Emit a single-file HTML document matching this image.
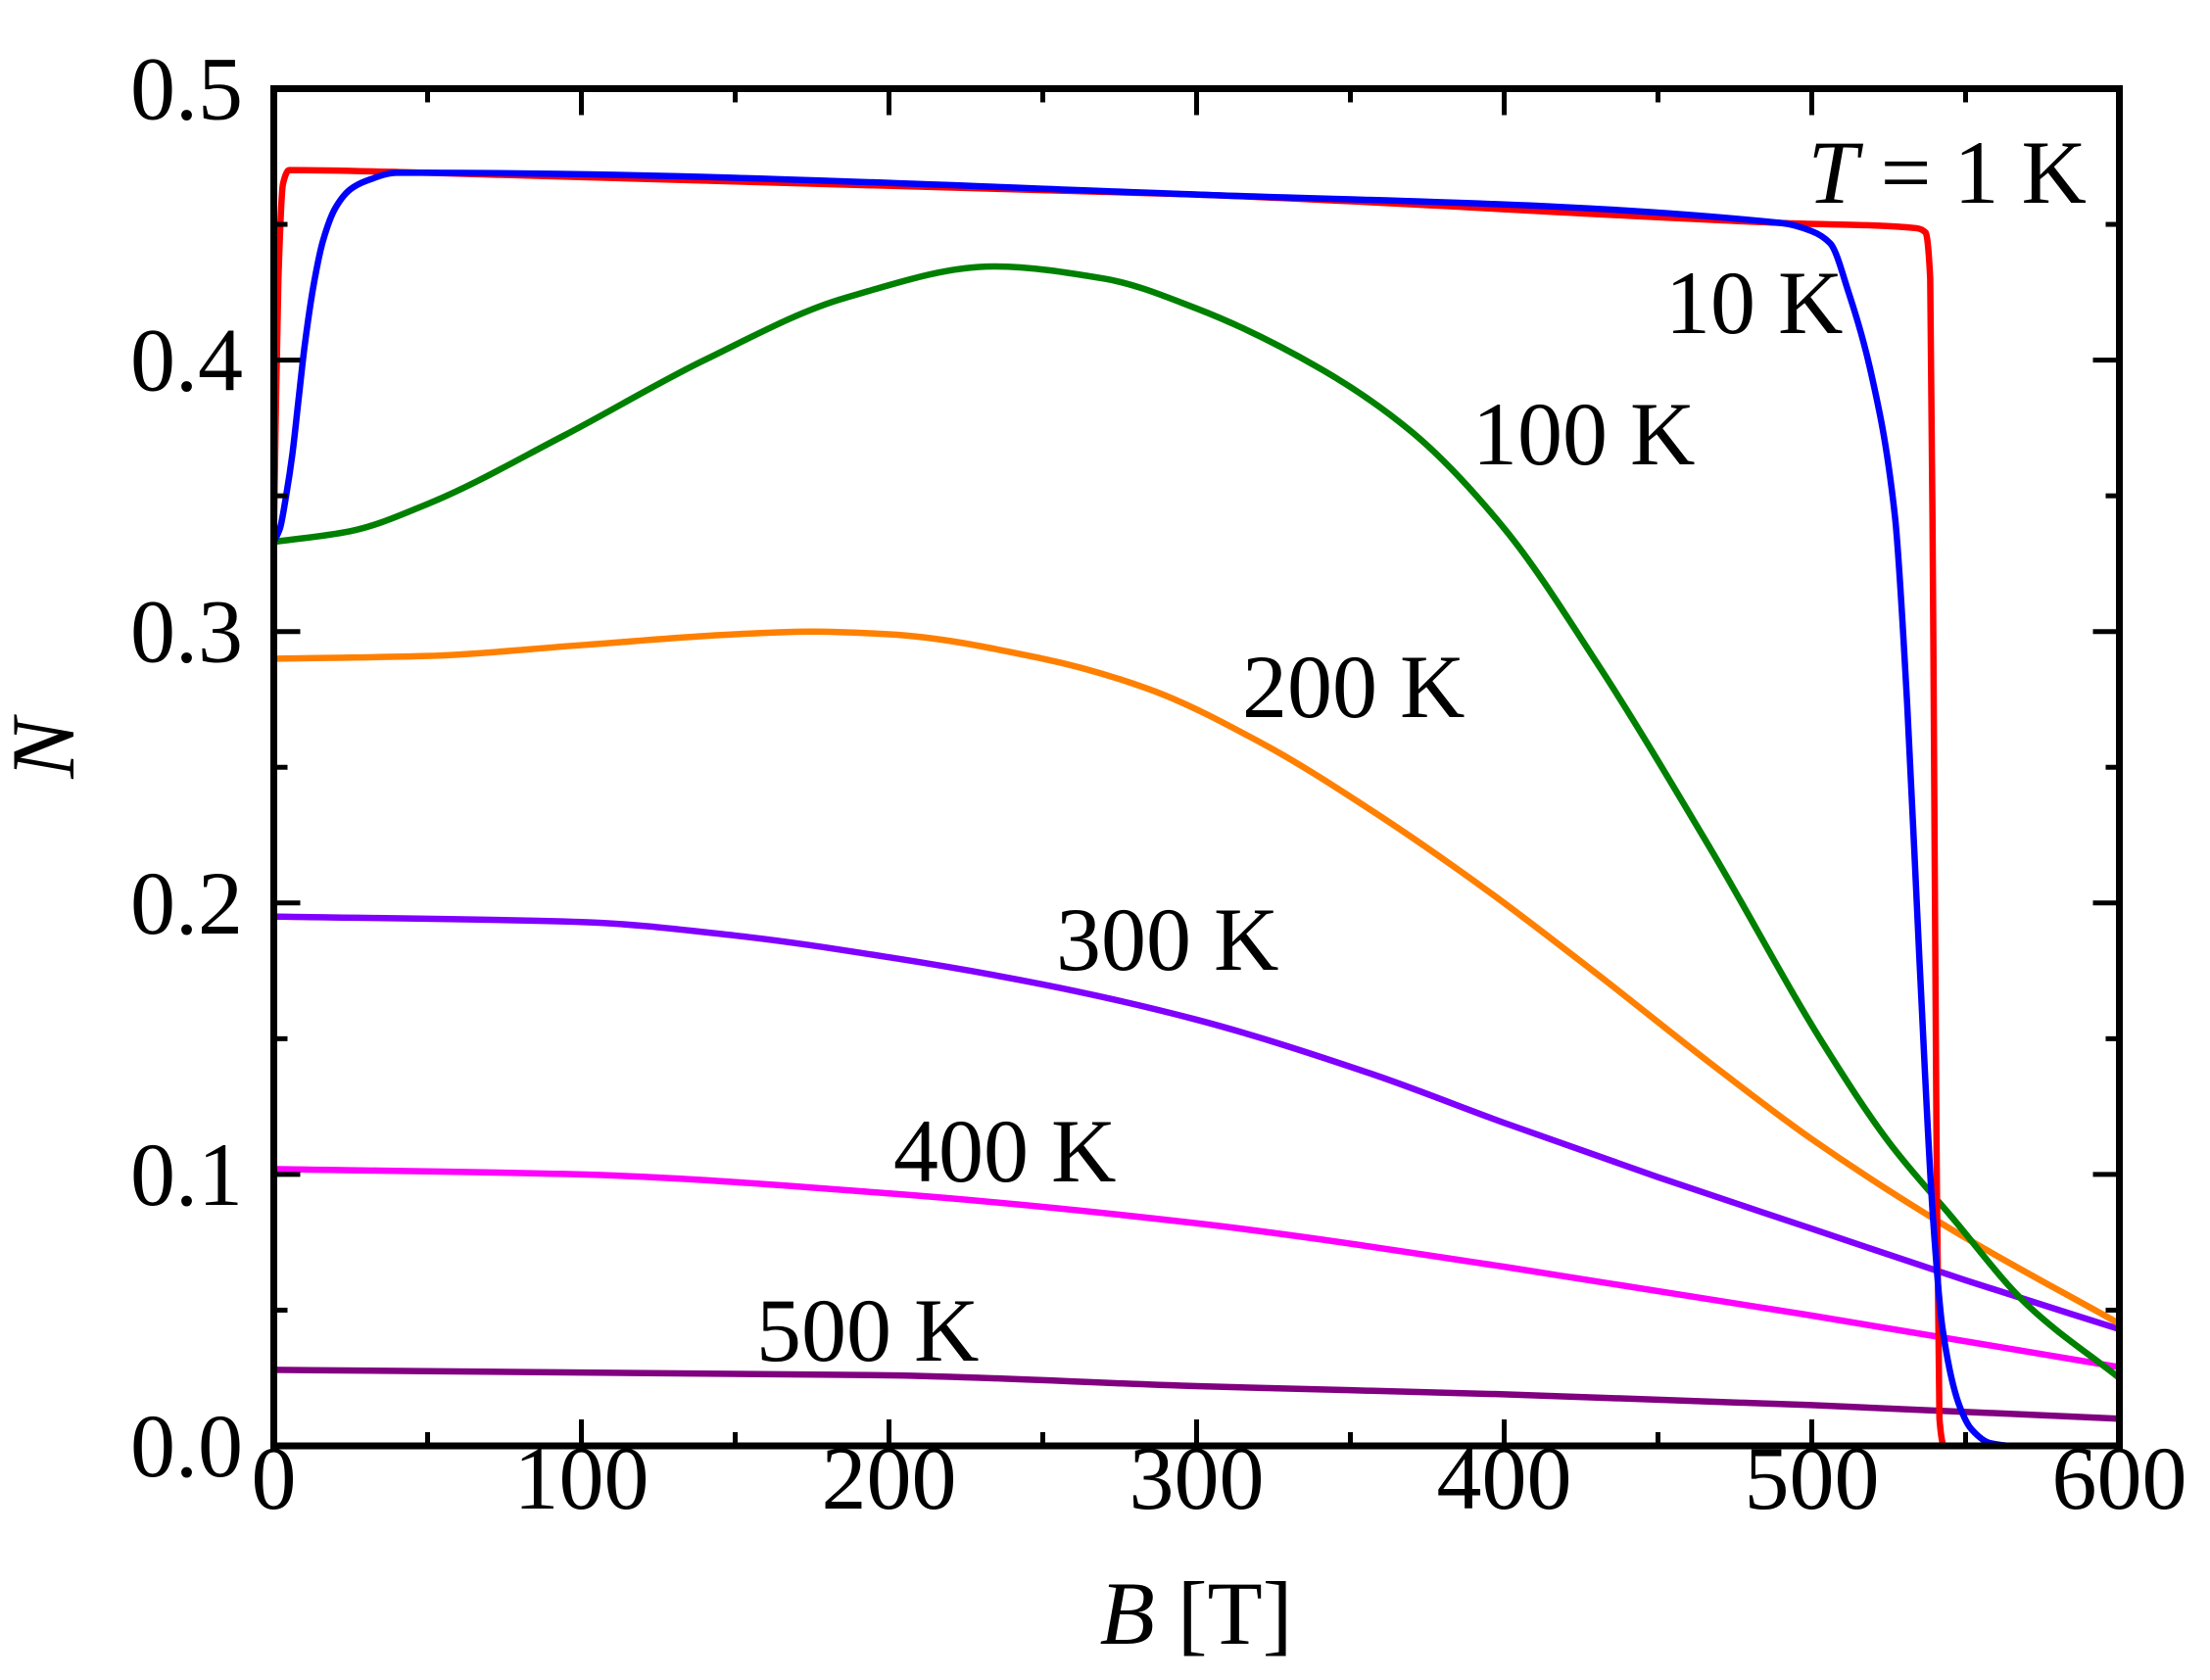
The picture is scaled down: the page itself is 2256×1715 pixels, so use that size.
<!DOCTYPE html>
<html><head><meta charset="utf-8"><style>
html,body{margin:0;padding:0;background:#fff}
svg{display:block}
text{font-family:"Liberation Serif",serif;fill:#000}
</style></head><body>
<svg id="chart" width="2256" height="1715" viewBox="0 0 2256 1715" xmlns="http://www.w3.org/2000/svg" style="position:absolute;left:0;top:0">
<g id="series"></g>
<g id="axes"></g>
<g id="labels"></g>
</svg>
<script>
const xTicks=[0,100,200,300,400,500,600];
const yTicks=[0.0,0.1,0.2,0.3,0.4,0.5];
const yTickLabels=["0.0","0.1","0.2","0.3","0.4","0.5"];
const b1=[0,0.5,1.5,3,5,50,300,490,534,537,538.5,539.5,540.5,541.5,543,600];
const n1=[0.333,0.37,0.43,0.465,0.470,0.469,0.461,0.4505,0.4486,0.447,0.43,0.3,0.12,0.01,0,0];
const b10=[0,2,4,6,8,10,13,16,20,25,30,40,50,300,490,500,506,512,519,527,531,535,539.4,542.5,548,552,558,565,600];
const n10=[0.333,0.338,0.35,0.365,0.385,0.405,0.428,0.444,0.456,0.463,0.466,0.469,0.469,0.461,0.4505,0.4475,0.443,0.4248,0.3966,0.3428,0.2735,0.179,0.0841,0.0433,0.0148,0.006,0.001,0,0];
const b100=[0,25,50,94,140,186,234,270,300,340,370,400,430,467,504,525,545,570,600];
const n100=[0.333,0.337,0.347,0.372,0.400,0.423,0.4345,0.430,0.419,0.397,0.3735,0.338,0.2887,0.2201,0.1476,0.112,0.085,0.052,0.025];
const b200=[0,50,100,150,175,200,250,284,321,357,394,430,467,500,545,600];
const n200=[0.290,0.291,0.295,0.299,0.300,0.299,0.290,0.279,0.259,0.234,0.205,0.174,0.141,0.113,0.080,0.045];
const b300=[0,100,150,200,250,300,357,400,450,500,550,600];
const n300=[0.195,0.193,0.188,0.180,0.170,0.157,0.137,0.119,0.099,0.080,0.061,0.043];
const b400=[0,100,200,300,400,500,600];
const n400=[0.102,0.100,0.093,0.082,0.066,0.048,0.029];
const b500=[0,200,300,400,500,600];
const n500=[0.028,0.026,0.022,0.019,0.015,0.010];

const X0=279.5,X1=2163.5,Y0=1476,Y1=90.5;
const sx=v=>X0+(v/600)*(X1-X0);
const sy=v=>Y0-(v/0.5)*(Y0-Y1);
const NS="http://www.w3.org/2000/svg";
function mk(tag,attrs,parent){const e=document.createElementNS(NS,tag);for(const k in attrs)e.setAttribute(k,attrs[k]);parent.appendChild(e);return e;}
function monoPath(xs,ys){
  const n=xs.length,d=[],m=new Array(n);
  for(let i=0;i<n-1;i++)d.push((ys[i+1]-ys[i])/(xs[i+1]-xs[i]));
  m[0]=d[0];m[n-1]=d[n-2];
  for(let i=1;i<n-1;i++){
    if(d[i-1]*d[i]<=0)m[i]=0;
    else{const w1=2*(xs[i+1]-xs[i])+(xs[i]-xs[i-1]),w2=(xs[i+1]-xs[i])+2*(xs[i]-xs[i-1]);m[i]=(w1+w2)/(w1/d[i-1]+w2/d[i]);}
  }
  let s="M"+sx(xs[0]).toFixed(2)+","+sy(ys[0]).toFixed(2);
  for(let i=0;i<n-1;i++){
    const h=xs[i+1]-xs[i];
    const c1x=xs[i]+h/3,c1y=ys[i]+m[i]*h/3,c2x=xs[i+1]-h/3,c2y=ys[i+1]-m[i+1]*h/3;
    s+="C"+sx(c1x).toFixed(2)+","+sy(c1y).toFixed(2)+" "+sx(c2x).toFixed(2)+","+sy(c2y).toFixed(2)+" "+sx(xs[i+1]).toFixed(2)+","+sy(ys[i+1]).toFixed(2);
  }
  return s;
}
const sg=document.getElementById("series");
const defs=[
 [b500,n500,"#800080","curve-500k"],
 [b400,n400,"#ff00ff","curve-400k"],
 [b300,n300,"#8000ff","curve-300k"],
 [b200,n200,"#ff8000","curve-200k"],
 [b100,n100,"#008000","curve-100k"],
 [b1,n1,"#ff0000","curve-1k"],
 [b10,n10,"#0000ff","curve-10k"]
];
for(const [b,n,c,name] of defs){
  const el=mk("path",{d:monoPath(b,n),fill:"none",stroke:c,"stroke-width":6.5,"stroke-linejoin":"round"},sg);
  
  
}
const ag=document.getElementById("axes");
const frame=mk("rect",{x:X0,y:Y1,width:X1-X0,height:Y0-Y1,fill:"none",stroke:"#000","stroke-width":7},ag);


for(let v=0;v<=600;v+=50){
  const major=v%100===0,L=major?27:14,x=sx(v);
  const t1=mk("line",{x1:x,x2:x,y1:Y0,y2:Y0-L,stroke:"#000","stroke-width":5},ag);
  
  
  const t2=mk("line",{x1:x,x2:x,y1:Y1,y2:Y1+L,stroke:"#000","stroke-width":5},ag);
  
  
}
for(let k=0;k<=10;k++){
  const v=k*0.05,major=k%2===0,L=major?27:14,y=sy(v);
  const t1=mk("line",{x1:X0,x2:X0+L,y1:y,y2:y,stroke:"#000","stroke-width":5},ag);
  
  
  const t2=mk("line",{x1:X1,x2:X1-L,y1:y,y2:y,stroke:"#000","stroke-width":5},ag);
  
  
}
const lg=document.getElementById("labels");
xTicks.forEach(v=>{
  const t=mk("text",{x:sx(v),y:1540,"font-size":92,"text-anchor":"middle"},lg);
  t.textContent=String(v);
  
  
});
yTicks.forEach((v,i)=>{
  const t=mk("text",{x:248,y:sy(v)+31,"font-size":92,"text-anchor":"end"},lg);
  t.textContent=yTickLabels[i];
  
  
});
</script>
<svg style="position:absolute;left:0;top:0" width="2256" height="1715">
<text x="1221" y="1678" font-size="92" text-anchor="middle"><tspan font-style="italic">B</tspan> [T]</text>
<text x="0" y="0" font-size="92" font-style="italic" text-anchor="middle" transform="translate(75,764) rotate(-90)">N</text>
<text x="2130" y="207" font-size="92" text-anchor="end"><tspan font-style="italic">T</tspan> = 1 K</text>
<text x="1700" y="340" font-size="92">10 K</text>
<text x="1503" y="474" font-size="92">100 K</text>
<text x="1268" y="732" font-size="92">200 K</text>
<text x="1078" y="990" font-size="92">300 K</text>
<text x="912" y="1206" font-size="92">400 K</text>
<text x="772" y="1389" font-size="92">500 K</text>
</svg>
</body></html>
